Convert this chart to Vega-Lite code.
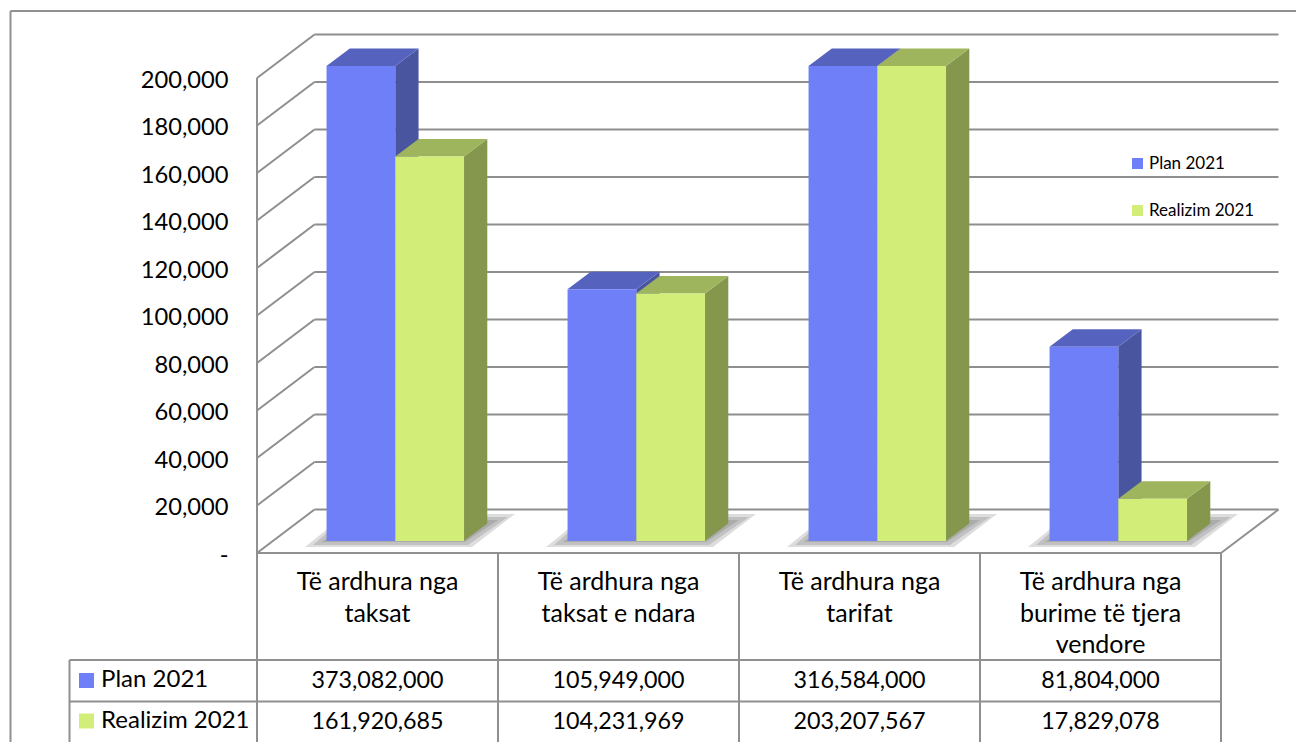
{
"$schema":"https://vega.github.io/schema/vega-lite/v6.json",
"width":1296,"height":742,"padding":0,"autosize":{"type":"none"},"background":"white",
"config":{"view":{"stroke":null},"font":"Lato"},
"datasets":{
"bars":[
{"category":"Të ardhura nga taksat","series":"Plan 2021","amount":373082000,"shown":200},
{"category":"Të ardhura nga taksat","series":"Realizim 2021","amount":161920685,"shown":161.92},
{"category":"Të ardhura nga taksat e ndara","series":"Plan 2021","amount":105949000,"shown":105.949},
{"category":"Të ardhura nga taksat e ndara","series":"Realizim 2021","amount":104231969,"shown":104.232},
{"category":"Të ardhura nga tarifat","series":"Plan 2021","amount":316584000,"shown":200},
{"category":"Të ardhura nga tarifat","series":"Realizim 2021","amount":203207567,"shown":200},
{"category":"Të ardhura nga burime të tjera vendore","series":"Plan 2021","amount":81804000,"shown":81.804},
{"category":"Të ardhura nga burime të tjera vendore","series":"Realizim 2021","amount":17829078,"shown":17.829}],
"headers":[
{"category":"Të ardhura nga taksat","header":"Të ardhura nga\ntaksat"},
{"category":"Të ardhura nga taksat e ndara","header":"Të ardhura nga\ntaksat e ndara"},
{"category":"Të ardhura nga tarifat","header":"Të ardhura nga\ntarifat"},
{"category":"Të ardhura nga burime të tjera vendore","header":"Të ardhura nga\nburime të tjera\nvendore"}],
"seriesRows":[{"series":"Plan 2021"},{"series":"Realizim 2021"}],
"levels":[{"level":0},{"level":20},{"level":40},{"level":60},{"level":80},{"level":100},{"level":120},{"level":140},{"level":160},{"level":180},{"level":200}],
"lines":[
{"a":0,"b":4,"c":0,"d":0},
{"a":0,"b":0,"c":0,"d":200},
{"a":4,"b":4.2386,"c":0,"d":18.3},
{"a":0,"b":0,"c":0,"d":-79.58},
{"a":1,"b":1,"c":0,"d":-79.58},
{"a":2,"b":2,"c":0,"d":-79.58},
{"a":3,"b":3,"c":0,"d":-79.58},
{"a":4,"b":4,"c":0,"d":-79.58},
{"a":-0.778,"b":-0.778,"c":-45.05,"d":-79.58},
{"a":-0.778,"b":4,"c":-45.05,"d":-45.05},
{"a":-0.778,"b":4,"c":-62.5,"d":-62.5},
{"a":-1.0228,"b":-1.0228,"c":228.2,"d":-79.58},
{"a":-1.0228,"b":4.3112,"c":228.2,"d":228.2}],
"shadow":[
{"id":"o1","a":0.1992,"b":0.8921,"y":2.53},{"id":"o1","a":0.3693,"b":1.0705,"y":16.42},
{"id":"m1","a":0.2324,"b":0.8755,"y":3.37},{"id":"m1","a":0.3651,"b":1.0415,"y":15.16},
{"id":"i1","a":0.2697,"b":0.8631,"y":4.63},{"id":"i1","a":0.3859,"b":1.0,"y":13.89},
{"id":"o2","a":1.1992,"b":1.8921,"y":2.53},{"id":"o2","a":1.3693,"b":2.0705,"y":16.42},
{"id":"m2","a":1.2324,"b":1.8755,"y":3.37},{"id":"m2","a":1.3651,"b":2.0415,"y":15.16},
{"id":"i2","a":1.2697,"b":1.8631,"y":4.63},{"id":"i2","a":1.3859,"b":2.0,"y":13.89},
{"id":"o3","a":2.1992,"b":2.8921,"y":2.53},{"id":"o3","a":2.3693,"b":3.0705,"y":16.42},
{"id":"m3","a":2.2324,"b":2.8755,"y":3.37},{"id":"m3","a":2.3651,"b":3.0415,"y":15.16},
{"id":"i3","a":2.2697,"b":2.8631,"y":4.63},{"id":"i3","a":2.3859,"b":3.0,"y":13.89},
{"id":"o4","a":3.1992,"b":3.8921,"y":2.53},{"id":"o4","a":3.3693,"b":4.0705,"y":16.42},
{"id":"m4","a":3.2324,"b":3.8755,"y":3.37},{"id":"m4","a":3.3651,"b":4.0415,"y":15.16},
{"id":"i4","a":3.2697,"b":3.8631,"y":4.63},{"id":"i4","a":3.3859,"b":4.0,"y":13.89}],
"side":[
{"id":"P1","series":"Plan 2021","a":0.5737,"t":205.05,"u":5.05},{"id":"P1","series":"Plan 2021","a":0.6704,"t":212.42,"u":12.42},
{"id":"R1","series":"Realizim 2021","a":0.8589,"t":166.97,"u":5.05},{"id":"R1","series":"Realizim 2021","a":0.9556,"t":174.34,"u":12.42},
{"id":"P2","series":"Plan 2021","a":1.5737,"t":111.0,"u":5.05},{"id":"P2","series":"Plan 2021","a":1.6704,"t":118.37,"u":12.42},
{"id":"R2","series":"Realizim 2021","a":1.8589,"t":109.28,"u":5.05},{"id":"R2","series":"Realizim 2021","a":1.9556,"t":116.65,"u":12.42},
{"id":"P3","series":"Plan 2021","a":2.5737,"t":205.05,"u":5.05},{"id":"P3","series":"Plan 2021","a":2.6704,"t":212.42,"u":12.42},
{"id":"R3","series":"Realizim 2021","a":2.8589,"t":205.05,"u":5.05},{"id":"R3","series":"Realizim 2021","a":2.9556,"t":212.42,"u":12.42},
{"id":"P4","series":"Plan 2021","a":3.5737,"t":86.85,"u":5.05},{"id":"P4","series":"Plan 2021","a":3.6704,"t":94.22,"u":12.42},
{"id":"R4","series":"Realizim 2021","a":3.8589,"t":22.88,"u":5.05},{"id":"R4","series":"Realizim 2021","a":3.9556,"t":30.25,"u":12.42}],
"top":[
{"id":"P1","series":"Plan 2021","a":0.2884,"b":0.5737,"y":205.05},{"id":"P1","series":"Plan 2021","a":0.3851,"b":0.6704,"y":212.42},
{"id":"R1","series":"Realizim 2021","a":0.5737,"b":0.8589,"y":166.97},{"id":"R1","series":"Realizim 2021","a":0.6704,"b":0.9556,"y":174.34},
{"id":"P2","series":"Plan 2021","a":1.2884,"b":1.5737,"y":111.0},{"id":"P2","series":"Plan 2021","a":1.3851,"b":1.6704,"y":118.37},
{"id":"R2","series":"Realizim 2021","a":1.5737,"b":1.8589,"y":109.28},{"id":"R2","series":"Realizim 2021","a":1.6704,"b":1.9556,"y":116.65},
{"id":"P3","series":"Plan 2021","a":2.2884,"b":2.5737,"y":205.05},{"id":"P3","series":"Plan 2021","a":2.3851,"b":2.6704,"y":212.42},
{"id":"R3","series":"Realizim 2021","a":2.5737,"b":2.8589,"y":205.05},{"id":"R3","series":"Realizim 2021","a":2.6704,"b":2.9556,"y":212.42},
{"id":"P4","series":"Plan 2021","a":3.2884,"b":3.5737,"y":86.85},{"id":"P4","series":"Plan 2021","a":3.3851,"b":3.6704,"y":94.22},
{"id":"R4","series":"Realizim 2021","a":3.5737,"b":3.8589,"y":22.88},{"id":"R4","series":"Realizim 2021","a":3.6704,"b":3.9556,"y":30.25}]
},
"resolve":{"scale":{"x":"independent","y":"independent","color":"independent"}},
"layer":[
{"data":{"name":"levels"},"mark":{"type":"rule","stroke":"#8e8e8e","strokeWidth":2,"yOffset":-43.5,"y2Offset":-43.5},
 "encoding":{"x":{"datum":0.2386,"scale":{"domain":[-1.0664,4.3112],"nice":false,"zero":false},"axis":null},"x2":{"datum":4.2386},
 "y":{"field":"level","type":"quantitative","scale":{"domain":[-79.58,232.84],"nice":false,"zero":false},"axis":null},"y2":{"field":"level"}}},
{"data":{"name":"levels"},"mark":{"type":"rule","stroke":"#8e8e8e","strokeWidth":2,"y2Offset":-43.5},
 "encoding":{"x":{"datum":0,"scale":{"domain":[-1.0664,4.3112],"nice":false,"zero":false},"axis":null},"x2":{"datum":0.2386},
 "y":{"field":"level","type":"quantitative","scale":{"domain":[-79.58,232.84],"nice":false,"zero":false},"axis":null},"y2":{"field":"level"}}},
{"data":{"name":"lines"},"mark":{"type":"rule","stroke":"#909090","strokeWidth":2},
 "encoding":{"x":{"field":"a","type":"quantitative","scale":{"domain":[-1.0664,4.3112],"nice":false,"zero":false},"axis":null},"x2":{"field":"b"},
 "y":{"field":"c","type":"quantitative","scale":{"domain":[-79.58,232.84],"nice":false,"zero":false},"axis":null},"y2":{"field":"d"}}},
{"data":{"name":"shadow"},"mark":{"type":"area","orient":"horizontal","fill":"#555555","fillOpacity":0.2},
 "encoding":{"detail":{"field":"id"},"x":{"field":"a","type":"quantitative","stack":null,"scale":{"domain":[-1.0664,4.3112],"nice":false,"zero":false},"axis":null},"x2":{"field":"b"},
 "y":{"field":"y","type":"quantitative","scale":{"domain":[-79.58,232.84],"nice":false,"zero":false},"axis":null}}},
{"data":{"name":"side"},"mark":{"type":"area","orient":"vertical"},
 "encoding":{"detail":{"field":"id"},"x":{"field":"a","type":"quantitative","scale":{"domain":[-1.0664,4.3112],"nice":false,"zero":false},"axis":null},
 "y":{"field":"t","type":"quantitative","stack":null,"scale":{"domain":[-79.58,232.84],"nice":false,"zero":false},"axis":null},"y2":{"field":"u"},
 "color":{"field":"series","type":"nominal","legend":null,"scale":{"domain":["Plan 2021","Realizim 2021"],"range":["#4A55A0","#85974D"]}}}},
{"data":{"name":"top"},"mark":{"type":"area","orient":"horizontal"},
 "encoding":{"detail":{"field":"id"},"x":{"field":"a","type":"quantitative","stack":null,"scale":{"domain":[-1.0664,4.3112],"nice":false,"zero":false},"axis":null},"x2":{"field":"b"},
 "y":{"field":"y","type":"quantitative","scale":{"domain":[-79.58,232.84],"nice":false,"zero":false},"axis":null},
 "color":{"field":"series","type":"nominal","legend":null,"scale":{"domain":["Plan 2021","Realizim 2021"],"range":["#5663BE","#9FB55D"]}}}},
{"data":{"name":"bars"},"mark":{"type":"bar","yOffset":-12,"y2Offset":-12},
 "encoding":{
 "x":{"field":"category","type":"nominal","sort":null,"axis":null,"scale":{"range":[274.8,1238.8],"paddingInner":0.4295,"paddingOuter":0.2147}},
 "xOffset":{"field":"series","type":"nominal","sort":["Plan 2021","Realizim 2021"],"scale":{"paddingInner":0,"paddingOuter":0}},
 "y":{"field":"shown","type":"quantitative","stack":null,"scale":{"domain":[-79.58,232.84],"nice":false,"zero":false},
  "axis":{"title":null,"orient":"left","offset":-257,"domain":false,"ticks":false,"grid":false,"labelPadding":29,"labelFontSize":23.7,"labelOffset":2.5,"labelColor":"#000000","labelFont":"Lato","values":[0,20,40,60,80,100,120,140,160,180,200],"labelExpr":"datum.value === 0 ? '-\u00a0\u00a0' : format(datum.value * 1000, ',')"}},
 "y2":{"datum":0},
 "color":{"field":"series","type":"nominal","scale":{"domain":["Plan 2021","Realizim 2021"],"range":["#6F7FF8","#D2EE78"]},
  "legend":{"title":null,"orient":"none","legendX":1129,"legendY":155,"symbolType":"square","symbolSize":121,"symbolStrokeWidth":0,"labelFontSize":17,"labelColor":"#000000","labelFont":"Lato","rowPadding":29,"labelOffset":3}}}},
{"data":{"name":"headers"},"mark":{"type":"text","fontSize":25,"baseline":"top","lineBreak":"\n","lineHeight":31.5,"color":"#000000","font":"Lato"},
 "encoding":{"x":{"field":"category","type":"nominal","sort":null,"axis":null,"scale":{"range":[257,1221]}},
 "y":{"datum":-7.3,"type":"quantitative","scale":{"domain":[-79.58,232.84],"nice":false,"zero":false},"axis":null},
 "text":{"field":"header"}}},
{"data":{"name":"bars"},"mark":{"type":"text","fontSize":23.3,"color":"#000000","font":"Lato","baseline":"middle"},
 "encoding":{"x":{"field":"category","type":"nominal","sort":null,"axis":null,"scale":{"range":[257,1221]}},
 "y":{"field":"series","type":"nominal","axis":null,"scale":{"type":"point","padding":0,"domain":["Plan 2021","Realizim 2021"],"range":[681,722]}},
 "text":{"field":"amount","type":"quantitative","format":",d"}}},
{"data":{"name":"seriesRows"},"mark":{"type":"text","fontSize":24,"align":"left","color":"#000000","font":"Lato","baseline":"middle"},
 "encoding":{"x":{"datum":-0.647,"scale":{"domain":[-1.0664,4.3112],"nice":false,"zero":false},"axis":null},
 "y":{"field":"series","type":"nominal","axis":null,"scale":{"type":"point","padding":0,"domain":["Plan 2021","Realizim 2021"],"range":[680,721]}},
 "text":{"field":"series"}}},
{"data":{"name":"seriesRows"},"mark":{"type":"point","shape":"square","filled":true,"opacity":1,"size":225},
 "encoding":{"x":{"datum":-0.7075,"scale":{"domain":[-1.0664,4.3112],"nice":false,"zero":false},"axis":null},
 "y":{"field":"series","type":"nominal","axis":null,"scale":{"type":"point","padding":0,"domain":["Plan 2021","Realizim 2021"],"range":[680.5,721]}},
 "color":{"field":"series","type":"nominal","legend":null,"scale":{"domain":["Plan 2021","Realizim 2021"],"range":["#6F7FF8","#D2EE78"]}}}}
]
}
